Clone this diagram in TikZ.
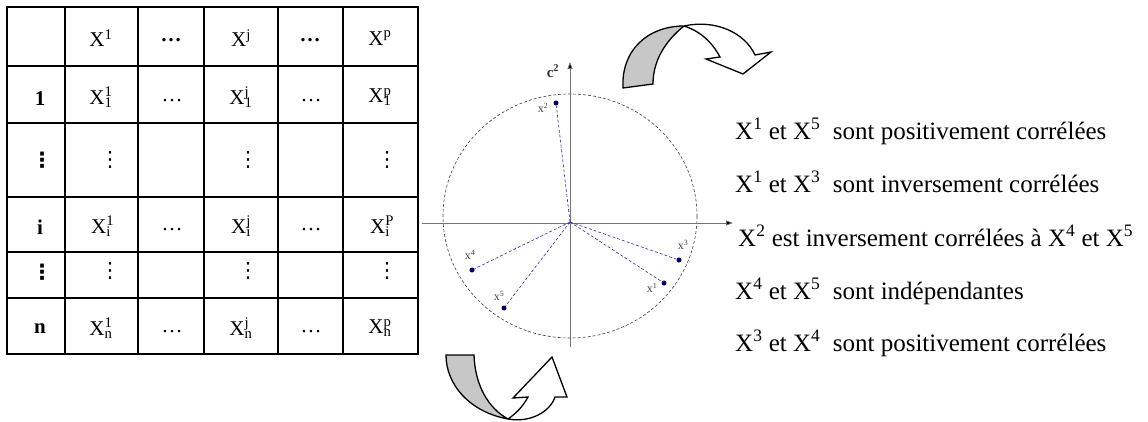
\documentclass[tikz,border=0pt]{standalone}
\usepackage{fontspec}
\setmainfont{Liberation Serif}
\newfontfamily\dvs{DejaVu Sans}
\usetikzlibrary{arrows.meta}
\newcommand{\XX}[2]{X\makebox[0pt][l]{\textsuperscript{#1}}\textsubscript{#2}}
\newcommand{\vdd}{{\dvs ⋮}}
\begin{document}
\begin{tikzpicture}[x=1pt,y=-1pt,
  tbl/.style={line width=1.6pt,line cap=rect},
  cell/.style={inner sep=0pt,font=\fontsize{21}{22}\selectfont},
  rowlab/.style={inner sep=0pt,font=\fontsize{21}{22}\selectfont\bfseries},
  circ/.style={densely dashed,line width=0.6pt,draw=black!75},
  axis/.style={line width=0.7pt,draw=black!55,-{Triangle[length=7pt,width=5pt,fill=black]}},
  pt/.style={circle,fill=blue!40!black,inner sep=0pt,minimum size=5pt},
  vec/.style={densely dashed,line width=0.6pt,draw=blue!55!black!80},
  lbl/.style={inner sep=0pt,font=\fontsize{12}{12}\selectfont,text=black!75},
  rib/.style={line width=1.3pt,draw=black,line join=miter},
  rtxt/.style={anchor=base west,inner sep=0pt,font=\fontsize{25}{27}\selectfont}]
\useasboundingbox (0,0) rectangle (1148,421);
% ---------- table ----------
\draw[tbl] (7,7) rectangle (418,354);
\foreach \x in {65,138,204,278,343} \draw[tbl] (\x,7) -- (\x,354);
\foreach \y in {66,123,197,252,298} \draw[tbl] (7,\y) -- (418,\y);
% header
\node[cell] (h1) at (101,38) {X\textsuperscript{1}};
\node[cell] (h2) at (171,40) {\textbf{…}};
\node[cell] (h3) at (241,38) {X\textsuperscript{j}};
\node[cell] (h4) at (310,40) {\textbf{…}};
\node[cell] (h5) at (380,38) {X\textsuperscript{p}};
% row 1
\node[rowlab] (r1) at (40,99) {1};
\node[cell] (c11) at (101,97) {\XX{1}{1}};
\node[cell] (c12) at (172,101) {\ldots};
\node[cell] (c13) at (241,97) {\XX{j}{1}};
\node[cell] (c14) at (311,101) {\ldots};
\node[cell] (c15) at (380,97) {\XX{p}{1}};
% row vdots
\node[rowlab] (rv1) at (42,160) {\vdd};
\node[cell] (v11) at (110,160) {\vdd};
\node[cell] (v13) at (248,160) {\vdd};
\node[cell] (v15) at (387,160) {\vdd};
% row i
\node[rowlab] (ri) at (40,227) {i};
\node[cell] (ci1) at (101,226) {\XX{1}{i}};
\node[cell] (ci2) at (172,230) {\ldots};
\node[cell] (ci3) at (241,226) {\XX{j}{i}};
\node[cell] (ci4) at (311,230) {\ldots};
\node[cell] (ci5) at (380,226) {\XX{P}{i}};
% row vdots 2
\node[rowlab] (rv2) at (42,272) {\vdd};
\node[cell] (v21) at (110,271) {\vdd};
\node[cell] (v23) at (248,271) {\vdd};
\node[cell] (v25) at (387,271) {\vdd};
% row n
\node[rowlab] (rn) at (40,329) {n};
\node[cell] (cn1) at (101,328) {\XX{1}{n}};
\node[cell] (cn2) at (172,332) {\ldots};
\node[cell] (cn3) at (241,328) {\XX{j}{n}};
\node[cell] (cn4) at (311,332) {\ldots};
\node[cell] (cn5) at (380,328) {\XX{p}{n}};
% ---------- correlation circle ----------
\draw[circ] (570,216) ellipse [x radius=127, y radius=122];
\coordinate (ax0) at (422,223);
\coordinate (ax1) at (733,223);
\coordinate (ay0) at (570,347);
\coordinate (ay1) at (570,62);
\draw[axis] (ax0) -- (ax1);
\draw[axis] (ay0) -- (ay1);
\node[inner sep=0pt,font=\fontsize{15}{15}\selectfont\bfseries,text=black!80] (c2) at (553,71) {c\textsuperscript{2}};
\coordinate (O) at (570,222);
\node[pt] (p2) at (556,103) {};
\node[pt] (p4) at (472,270) {};
\node[pt] (p5) at (504,308) {};
\node[pt] (p3) at (679,260) {};
\node[pt] (p1) at (664,283) {};
\draw[vec] (O) -- (p2);
\draw[vec] (O) -- (p4);
\draw[vec] (O) -- (p5);
\draw[vec] (O) -- (p3);
\draw[vec] (O) -- (p1);
\node[lbl] (l2) at (543,108) {x\textsuperscript{2}};
\node[lbl] (l4) at (470,255) {x\textsuperscript{4}};
\node[lbl] (l5) at (499,296) {x\textsuperscript{5}};
\node[lbl] (l3) at (683,245) {x\textsuperscript{3}};
\node[lbl] (l1) at (652,288) {x\textsuperscript{1}};
% ---------- curved arrows ----------
% top
\fill[black!22] (623,88) .. controls (621,50) and (648,26) .. (684,26)
  .. controls (664,42) and (653,62) .. (653,84) -- cycle;
\draw[rib] (684,26) .. controls (664,42) and (653,62) .. (653,84) -- (623,88)
  .. controls (621,50) and (648,26) .. (684,26);
\draw[rib] (684,26) .. controls (716,19) and (745,33) .. (755,55) -- (771,52) -- (743,74)
  -- (706,59) -- (720,57) .. controls (712,42) and (700,31) .. (684,26);
% bottom
\fill[black!22] (446,355) -- (474,355) .. controls (475,385) and (488,408) .. (508,419)
  .. controls (470,412) and (446,385) .. (446,355) -- cycle;
\draw[rib] (508,419) .. controls (470,412) and (446,385) .. (446,355) -- (474,355)
  .. controls (475,385) and (488,408) .. (508,419);
\draw[rib] (508,419) .. controls (530,423) and (550,412) .. (555,397) -- (567,397) -- (552,357)
  -- (513,398) -- (528,397) .. controls (522,408) and (515,414) .. (508,419);
% ---------- statements ----------
\node[rtxt] (t1) at (735,139) {X\textsuperscript{1} et X\textsuperscript{5}\ \ sont positivement corrélées};
\node[rtxt] (t2) at (735,192) {X\textsuperscript{1} et X\textsuperscript{3}\ \ sont inversement corrélées};
\node[rtxt] (t3) at (738,246) {X\textsuperscript{2} est inversement corrélées à X\textsuperscript{4} et X\textsuperscript{5}};
\node[rtxt] (t4) at (735,299) {X\textsuperscript{4} et X\textsuperscript{5}\ \ sont indépendantes};
\node[rtxt] (t5) at (735,351) {X\textsuperscript{3} et X\textsuperscript{4}\ \ sont positivement corrélées};
\end{tikzpicture}
\end{document}
